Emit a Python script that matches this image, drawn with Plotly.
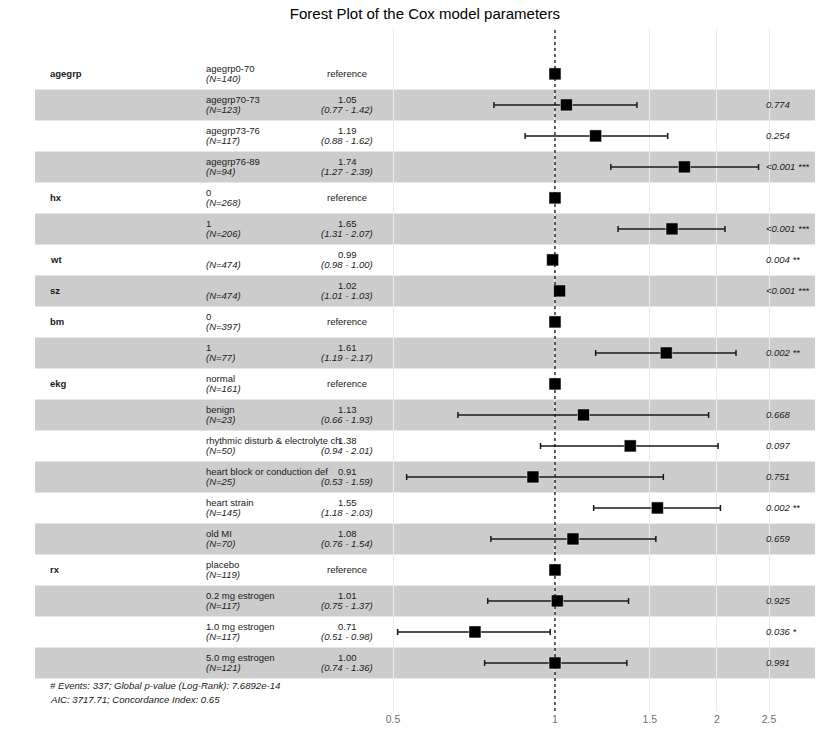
import plotly.graph_objects as go

# valores (ggforest, modelo de Cox)
variables = ["agegrp", "", "", "", "hx", "", "wt", "sz", "bm", "", "ekg", "", "", "", "", "", "rx", "", "", ""]
niveles = ["agegrp0-70", "agegrp70-73", "agegrp73-76", "agegrp76-89", "0", "1", "", "", "0", "1",
           "normal", "benign", "rhythmic disturb & electrolyte ch", "heart block or conduction def",
           "heart strain", "old MI", "placebo", "0.2 mg estrogen", "1.0 mg estrogen", "5.0 mg estrogen"]
n_obs = [140, 123, 117, 94, 268, 206, 474, 474, 397, 77, 161, 23, 50, 25, 145, 70, 119, 117, 117, 121]
hr = [1, 1.05, 1.19, 1.74, 1, 1.65, 0.99, 1.02, 1, 1.61, 1, 1.13, 1.38, 0.91, 1.55, 1.08, 1, 1.01, 0.71, 1.00]
ic_bajo = [None, 0.77, 0.88, 1.27, None, 1.31, 0.98, 1.01, None, 1.19, None, 0.66, 0.94, 0.53, 1.18, 0.76, None, 0.75, 0.51, 0.74]
ic_alto = [None, 1.42, 1.62, 2.39, None, 2.07, 1.00, 1.03, None, 2.17, None, 1.93, 2.01, 1.59, 2.03, 1.54, None, 1.37, 0.98, 1.36]
p_valores = ["", "0.774", "0.254", "<0.001 ***", "", "<0.001 ***", "0.004 **", "<0.001 ***", "", "0.002 **",
             "", "0.668", "0.097", "0.751", "0.002 **", "0.659", "", "0.925", "0.036 *", "0.991"]
ticks = [0.5, 1, 1.5, 2, 2.5]
nota1 = "# Events: 337; Global p-value (Log-Rank): 7.6892e-14"
nota2 = "AIC: 3717.71; Concordance Index: 0.65"

FUENTE = "Liberation Sans, Arial, sans-serif"
filas = list(range(len(hr)))

err_mas = [(a - e) if a is not None else None for a, e in zip(ic_alto, hr)]
err_menos = [(e - b) if b is not None else None for b, e in zip(ic_bajo, hr)]

fig = go.Figure()

fig.add_trace(go.Scatter(
    x=hr, y=filas, mode="markers",
    marker=dict(symbol="square", size=12, color="black", line=dict(width=0.5, color="white")),
    error_x=dict(type="data", symmetric=False, array=err_mas, arrayminus=err_menos,
                 color="#1a1a1a", thickness=1.5, width=3),
    hoverinfo="x+y", showlegend=False,
))

# bandas grises en filas alternas
for i in filas:
    if i % 2 == 1:
        fig.add_shape(type="rect", xref="paper", yref="y", x0=0, x1=1, y0=i - 0.5, y1=i + 0.5,
                      fillcolor="rgba(0,0,0,0.2)", line=dict(width=0), layer="between")

# linea de referencia en HR = 1
fig.add_shape(type="line", xref="x", yref="paper", x0=1, x1=1, y0=0, y1=1,
              line=dict(color="black", width=1.2, dash="dot"), layer="above")

anot = []
for i in filas:
    if variables[i]:
        anot.append(dict(x=0.017, y=i, text="<b>" + variables[i] + "</b>", xanchor="left"))
    if niveles[i]:
        anot.append(dict(x=0.2165, y=i, text=niveles[i], xanchor="left", yshift=5))
    anot.append(dict(x=0.2165, y=i, text="<i>(N=%d)</i>" % n_obs[i], xanchor="left", yshift=-5))
    if ic_bajo[i] is None:
        anot.append(dict(x=0.40, y=i, text="reference", xanchor="center"))
    else:
        anot.append(dict(x=0.40, y=i, text="%.2f" % hr[i], xanchor="center", yshift=5))
        anot.append(dict(x=0.40, y=i, text="<i>(%.2f - %.2f)</i>" % (ic_bajo[i], ic_alto[i]),
                         xanchor="center", yshift=-5))
    if p_valores[i]:
        anot.append(dict(x=0.934, y=i, text="<i>" + p_valores[i] + "</i>", xanchor="left"))

anot.append(dict(x=0.017, y=19.74, text="<i>" + nota1 + "</i>", xanchor="left", font=dict(size=9.6)))
anot.append(dict(x=0.017, y=20.19, text="<i>" + nota2 + "</i>", xanchor="left", font=dict(size=9.6)))

for a in anot:
    a.setdefault("font", dict(size=9.5))
    a["font"].update(family=FUENTE, color="#1a1a1a")
    a.update(xref="paper", yref="y", showarrow=False, yanchor="middle")

fig.update_layout(
    width=838, height=737,
    title=dict(text="Forest Plot of the Cox model parameters", x=0.507, xanchor="center", y=0.982,
               yanchor="middle", font=dict(family=FUENTE, size=15, color="black")),
    margin=dict(l=35, r=23, t=28, b=24),
    paper_bgcolor="white", plot_bgcolor="white",
    annotations=anot,
    xaxis=dict(type="log", range=[-0.9665, 0.4833], tickvals=ticks, ticktext=[str(t) for t in ticks],
               showgrid=True, gridcolor="#ebebeb", gridwidth=1, zeroline=False, showline=False,
               ticks="", tickfont=dict(family=FUENTE, size=10.5, color="#707070")),
    yaxis=dict(range=[20.55, -1.48], showgrid=False, zeroline=False, showticklabels=False,
               showline=False, ticks=""),
)

fig.write_html("out.html", config={"displayModeBar": False},
               post_script="document.body.style.margin='0';")
